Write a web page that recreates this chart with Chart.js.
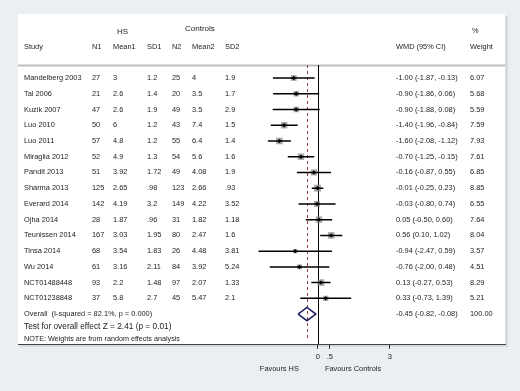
<!DOCTYPE html>
<html>
<head>
<meta charset="utf-8">
<script src="https://cdn.jsdelivr.net/npm/chart.js@4/dist/chart.umd.min.js"></script>
<style>
    body { margin: 0; background: #e9eff3; }
</style>
</head>
<body>
<canvas id="myChart" width="520" height="391"></canvas>
<script>
//
// Data
//
const studies = ["Mandelberg 2003", "Tal 2006", "Kuzik 2007", "Luo 2010", "Luo 2011", "Miraglia 2012", "Pandit 2013",
    "Sharma 2013", "Everard 2014", "Ojha 2014", "Teunissen 2014", "Tinsa 2014", "Wu 2014", "NCT01488448", "NCT01238848"];
const n1 = ["27", "21", "47", "50", "57", "52", "51", "125", "142", "28", "167", "68", "61", "93", "37"];
const mean1 = ["3", "2.6", "2.6", "6", "4.8", "4.9", "3.92", "2.65", "4.19", "1.87", "3.03", "3.54", "3.16", "2.2", "5.8"];
const sd1 = ["1.2", "1.4", "1.9", "1.2", "1.2", "1.3", "1.72", ".98", "3.2", ".96", "1.95", "1.83", "2.11", "1.48", "2.7"];
const n2 = ["25", "20", "49", "43", "55", "54", "49", "123", "149", "31", "80", "26", "84", "97", "45"];
const mean2 = ["4", "3.5", "3.5", "7.4", "6.4", "5.6", "4.08", "2.66", "4.22", "1.82", "2.47", "4.48", "3.92", "2.07", "5.47"];
const sd2 = ["1.9", "1.7", "2.9", "1.5", "1.4", "1.6", "1.9", ".93", "3.52", "1.18", "1.6", "3.81", "5.24", "1.33", "2.1"];

const wmd = [-1.00, -0.90, -0.90, -1.40, -1.60, -0.70, -0.16, -0.01, -0.03, 0.05, 0.56, -0.94, -0.76, 0.13, 0.33];
const ciLow = [-1.87, -1.86, -1.88, -1.96, -2.08, -1.25, -0.87, -0.25, -0.80, -0.50, 0.10, -2.47, -2.00, -0.27, -0.73];
const ciHigh = [-0.13, 0.06, 0.08, -0.84, -1.12, -0.15, 0.55, 0.23, 0.74, 0.60, 1.02, 0.59, 0.48, 0.53, 1.39];
const weights = [6.07, 5.68, 5.59, 7.59, 7.93, 7.61, 6.85, 8.85, 6.55, 7.64, 8.04, 3.57, 4.51, 8.29, 5.21];

const overallEst = -0.45;
const overallLow = -0.82;
const overallHigh = -0.08;
const overallWeight = 100.00;

const xTicks = [0, 0.5, 3];
const xTickLabels = ["0", ".5", "3"];

const overallLabel = "Overall  (I-squared = 82.1%, p = 0.000)";
const testLabel = "Test for overall effect Z = 2.41 (p = 0.01)";
const noteLabel = "NOTE: Weights are from random effects analysis";

//
// Build the datasets from the arrays
//
const overallRow = studies.length;

let ciPoints = [];
let estPoints = [];
for (let i = 0; i < studies.length; i++) {
    ciPoints.push({x: ciLow[i], y: i}, {x: ciHigh[i], y: i}, {x: null, y: null});
    estPoints.push({x: wmd[i], y: i});
}

const diamondPoints = [
    {x: overallLow, y: overallRow},
    {x: overallEst, y: overallRow - 0.42},
    {x: overallHigh, y: overallRow},
    {x: overallEst, y: overallRow + 0.42},
    {x: overallLow, y: overallRow}
];

const FONT = '"Liberation Sans", Arial, sans-serif';
const TEXT = "#1c1c1c";

function fmt(v) {
    return v.toFixed(2);
}

//
// Background, panel and table text
//
const panelPlugin = {
    id: "panel",
    beforeDraw(chart) {
        const c = chart.ctx;
        c.save();
        c.fillStyle = "#e9eff3";
        c.fillRect(0, 0, chart.width, chart.height);
        c.fillStyle = "#d3d9dd";
        c.fillRect(20, 16, 488, 331);
        c.fillStyle = "#ffffff";
        c.fillRect(18, 14, 487, 330);
        // header rule
        c.strokeStyle = "#bdbdbd";
        c.lineWidth = 2;
        c.beginPath();
        c.moveTo(18, 65.5);
        c.lineTo(505, 65.5);
        c.stroke();
        c.restore();
    },
    beforeDatasetsDraw(chart) {
        const c = chart.ctx;
        const x = chart.scales.x;
        const area = chart.chartArea;
        c.save();
        // no-effect line
        c.strokeStyle = "#000";
        c.lineWidth = 1;
        c.beginPath();
        c.moveTo(Math.round(x.getPixelForValue(0)) + 0.5, area.top);
        c.lineTo(Math.round(x.getPixelForValue(0)) + 0.5, area.bottom);
        c.stroke();
        // overall effect line
        c.strokeStyle = "#a0393d";
        c.setLineDash([3, 3]);
        c.beginPath();
        c.moveTo(Math.round(x.getPixelForValue(overallEst)) + 0.5, area.top);
        c.lineTo(Math.round(x.getPixelForValue(overallEst)) + 0.5, area.bottom - 3);
        c.stroke();
        c.restore();
    },
    afterDraw(chart) {
        const c = chart.ctx;
        const x = chart.scales.x;
        const y = chart.scales.y;
        c.save();
        c.fillStyle = TEXT;
        c.textBaseline = "middle";
        c.textAlign = "left";

        c.font = "8px " + FONT;
        c.fillText("HS", 117, 32);
        c.fillText("Controls", 185, 29);
        c.font = "7.4px " + FONT;
        c.fillText("%", 472, 31);

        const cols = [24, 92, 113, 147, 172, 192, 225];
        const heads = ["Study", "N1", "Mean1", "SD1", "N2", "Mean2", "SD2"];
        for (let k = 0; k < heads.length; k++) {
            c.fillText(heads[k], cols[k], 47);
        }
        c.fillText("WMD (95% CI)", 396, 47);
        c.fillText("Weight", 470, 47);

        for (let i = 0; i < studies.length; i++) {
            const py = y.getPixelForValue(i);
            const row = [studies[i], n1[i], mean1[i], sd1[i], n2[i], mean2[i], sd2[i]];
            for (let k = 0; k < row.length; k++) {
                c.fillText(row[k], cols[k], py);
            }
            c.fillText(fmt(wmd[i]) + " (" + fmt(ciLow[i]) + ", " + fmt(ciHigh[i]) + ")", 396, py);
            c.fillText(fmt(weights[i]), 470, py);
        }

        const oy = y.getPixelForValue(overallRow);
        c.fillText(overallLabel, 24, oy);
        c.fillText(fmt(overallEst) + " (" + fmt(overallLow) + ", " + fmt(overallHigh) + ")", 396, oy);
        c.fillText(fmt(overallWeight), 470, oy);
        c.font = "8.3px " + FONT;
        c.fillText(testLabel, 24, oy + 12.7);
        c.font = "7.2px " + FONT;
        c.fillText(noteLabel, 24, oy + 25);

        // axis captions
        c.font = "7.4px " + FONT;
        c.textAlign = "center";
        c.fillText("Favours HS", x.getPixelForValue(-1.6), 369);
        c.fillText("Favours Controls", x.getPixelForValue(1.47), 369);
        c.restore();
    }
};

//
// Chart
//
document.addEventListener("DOMContentLoaded", function() {
    const ctx = document.getElementById("myChart").getContext("2d");
    new Chart(ctx, {
        type: "scatter",
        data: {
            datasets: [
                {
                    data: estPoints,
                    pointStyle: "rectRot",
                    pointRadius: 2.2,
                    backgroundColor: "#000",
                    borderWidth: 0
                },
                {
                    data: ciPoints,
                    showLine: true,
                    spanGaps: false,
                    borderColor: "#000",
                    borderWidth: 1.5,
                    pointRadius: 0
                },
                {
                    data: estPoints,
                    pointStyle: "rect",
                    pointRadius: c => 1.65 * Math.sqrt(weights[c.dataIndex]),
                    backgroundColor: "rgba(135, 135, 135, 0.7)",
                    borderWidth: 0
                },
                {
                    data: diamondPoints,
                    showLine: true,
                    borderColor: "#1b1b5e",
                    borderWidth: 1.5,
                    pointRadius: 0
                }
            ]
        },
        options: {
            responsive: false,
            animation: false,
            devicePixelRatio: 1,
            layout: {
                padding: {left: 18, right: 15, top: 65, bottom: 17}
            },
            plugins: {
                legend: {display: false},
                tooltip: {enabled: false}
            },
            scales: {
                x: {
                    type: "linear",
                    min: -12.49,
                    max: 7.80,
                    afterBuildTicks: axis => {
                        axis.ticks = xTicks.map(v => ({value: v}));
                    },
                    afterFit: axis => {
                        axis.height = 30;
                    },
                    ticks: {
                        autoSkip: false,
                        maxRotation: 0,
                        padding: 3,
                        color: TEXT,
                        font: {family: FONT, size: 7.5},
                        callback: (v, i) => xTickLabels[i]
                    },
                    grid: {
                        drawOnChartArea: false,
                        drawTicks: true,
                        tickLength: 5,
                        color: "#333"
                    },
                    border: {color: "#444", width: 1}
                },
                y: {
                    type: "linear",
                    display: false,
                    reverse: true,
                    min: -0.826,
                    max: 16.9
                }
            }
        },
        plugins: [panelPlugin]
    });
});
</script>
</body>
</html>
